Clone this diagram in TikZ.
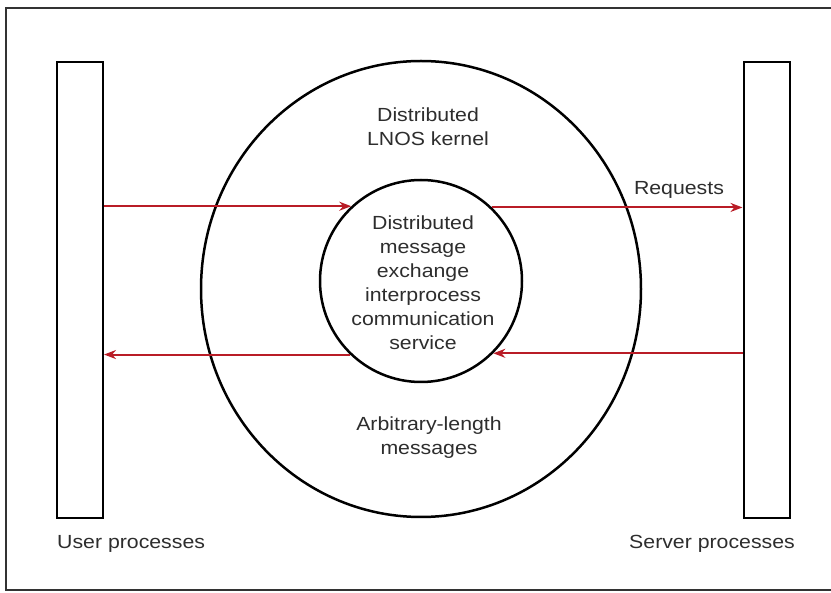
\documentclass[tikz,border=0pt]{standalone}
\usepackage{fontspec}
\setmainfont[FakeStretch=1.12]{Liberation Sans}
\usetikzlibrary{arrows.meta,shapes.geometric}
\definecolor{arrowred}{RGB}{185,28,38}
\definecolor{inkgray}{RGB}{45,45,45}
\begin{document}
\begin{tikzpicture}[x=1pt,y=-1pt,
  proc/.style={draw=black,line width=2pt,minimum width=46pt,minimum height=456pt,inner sep=0pt},
  ring/.style={draw=black,line width=2.5pt,inner sep=0pt},
  flow/.style={draw=arrowred,line width=2pt,-{Stealth[length=12pt,width=9pt]}},
  lbl/.style={font=\fontsize{19}{24}\selectfont,text=inkgray,inner sep=0pt,anchor=base}]
\useasboundingbox (0,0) rectangle (831,593);
% frame
\draw[line width=1.4pt,black!80] (831,8) -- (6,8) -- (6,590) -- (831,590);
% process bars
\node[proc] (user) at (80,290) {};
\node[proc] (server) at (766.5,290) {};
% circles
\node[ring,ellipse,minimum width=440pt,minimum height=456pt] (outer) at (421,289) {};
\node[ring,circle,minimum size=202pt] (inner) at (421,281) {};
% arrow end points on the inner circle
\coordinate (ia) at (inner.133.7);
\coordinate (ib) at (inner.46.3);
\coordinate (ic) at (inner.-45.5);
\coordinate (id) at (inner.-134.5);
\draw[flow] (user.east |- ia) -- (ia);
\draw[flow] (ib) -- (server.west |- ib);
\draw[flow] (server.west |- ic) -- (ic);
\draw[flow] (id) -- (user.east |- id);
% labels
\node[lbl] (k1) at (428,122) {Distributed};
\node[lbl] (k2) at (428,146) {LNOS kernel};
\node[lbl] (req) at (679,195) {Requests};
\node[lbl] (s1) at (423,230) {Distributed};
\node[lbl] (s2) at (423,254) {message};
\node[lbl] (s3) at (423,278) {exchange};
\node[lbl] (s4) at (423,302) {interprocess};
\node[lbl] (s5) at (423,326) {communication};
\node[lbl] (s6) at (423,350) {service};
\node[lbl] (a1) at (429,431) {Arbitrary-length};
\node[lbl] (a2) at (429,455) {messages};
\node[lbl,anchor=base west] (ulbl) at (57,549) {User processes};
\node[lbl,anchor=base east] (slbl) at (795,549) {Server processes};
\end{tikzpicture}
\end{document}
